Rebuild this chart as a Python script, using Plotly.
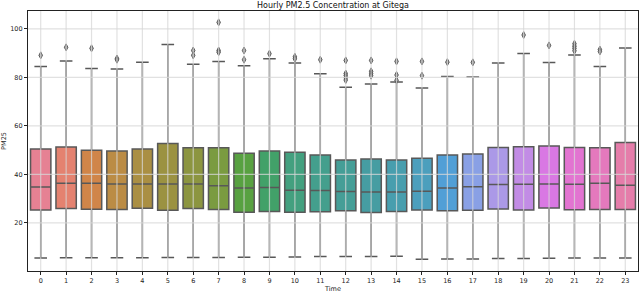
import math
import colorsys
import plotly.graph_objects as go

# ---------------- data ----------------
HOURS = list(range(24))
Q1 = [25.3, 25.9, 25.6, 25.5, 26.0, 25.2, 25.9, 25.5, 24.3, 24.7, 24.3, 24.6,
      25.0, 24.2, 24.7, 25.3, 25.0, 25.2, 25.7, 25.3, 26.1, 25.4, 25.5, 25.5]
MEDIAN = [34.8, 36.3, 36.3, 36.0, 36.0, 36.0, 36.0, 35.3, 34.4, 34.6, 33.4, 33.3,
          32.9, 32.7, 32.7, 33.0, 34.4, 34.9, 35.8, 35.9, 36.0, 35.9, 36.3, 35.5]
Q3 = [50.5, 51.3, 49.9, 49.6, 50.5, 52.7, 51.0, 51.0, 48.7, 49.6, 49.1, 48.0,
      45.9, 46.3, 45.9, 46.6, 48.0, 48.4, 51.1, 51.4, 51.7, 51.1, 51.0, 53.1]
LOWER = [5.5, 5.6, 5.6, 5.6, 5.6, 5.7, 5.7, 5.7, 5.8, 5.8, 5.9, 6.1,
         6.1, 6.1, 6.2, 5.0, 5.1, 5.1, 5.3, 5.3, 5.4, 5.5, 5.5, 5.5]
UPPER = [84.5, 86.8, 83.7, 83.5, 86.2, 93.6, 85.4, 86.6, 84.8, 87.7, 85.9, 81.5,
         75.9, 77.3, 78.1, 75.6, 80.4, 80.2, 85.9, 89.9, 86.1, 89.2, 84.5, 92.1]
OUTLIERS = [[89.1], [92.4], [92.0], [87.8, 87.3], [], [],
            [91.1, 89.1], [102.7, 91.1, 90.4], [91.1, 87.3], [89.8], [88.5, 87.7], [87.3],
            [87.0, 81.6, 80.8, 79.9, 78.9], [87.0, 82.5, 81.5, 80.7], [86.6, 81.0, 78.8],
            [86.6, 80.7], [86.3], [86.2], [], [97.5], [93.2],
            [93.9, 92.9, 92.0, 91.0], [91.5, 90.7], []]
Y_TICKS = [20, 40, 60, 80, 100]
TITLE = "Hourly PM2.5 Concentration at Gitega"
X_LABEL = "Time"
Y_LABEL = "PM25"

# ---------------- seaborn-like husl palette ----------------
_M = [[3.240969941904521, -1.537383177570093, -0.498610760293],
      [-0.96924363628087, 1.87596750150772, 0.041555057407175],
      [0.055630079696993, -0.20397695888897, 1.056971514242878]]
_REFU, _REFV = 0.19783000664283, 0.46831999493879
_KAPPA, _EPS = 903.2962962, 0.0088564516


def _max_chroma(L, H):
    hrad = math.radians(H)
    sinH, cosH = math.sin(hrad), math.cos(hrad)
    sub1 = (L + 16) ** 3 / 1560896.0
    sub2 = sub1 if sub1 > _EPS else L / _KAPPA
    result = float("inf")
    for m1, m2, m3 in _M:
        top = (0.99915 * m1 + 1.05122 * m2 + 1.14460 * m3) * sub2
        rbottom = 0.86330 * m3 - 0.17266 * m2
        lbottom = 0.12949 * m3 - 0.38848 * m1
        bottom = (rbottom * sinH + lbottom * cosH) * sub2
        for t in (0.0, 1.0):
            C = L * (top - 1.05122 * t) / (bottom + 0.17266 * sinH * t)
            if 0 < C < result:
                result = C
    return result


def _husl_to_rgb(H, S, L):
    C = _max_chroma(L, H) / 100.0 * S
    hrad = math.radians(H)
    U, V = math.cos(hrad) * C, math.sin(hrad) * C
    t = (L + 16) / 116.0
    Y = t ** 3 if t ** 3 > _EPS else (116 * t - 16) / _KAPPA
    varU = U / (13 * L) + _REFU
    varV = V / (13 * L) + _REFV
    X = -(9 * Y * varU) / ((varU - 4) * varV - varU * varV)
    Z = (9 * Y - 15 * varV * Y - varV * X) / (3 * varV)
    out = []
    for row in _M:
        c = row[0] * X + row[1] * Y + row[2] * Z
        c = 12.92 * c if c <= 0.0031308 else 1.055 * c ** (1 / 2.4) - 0.055
        out.append(min(max(c, 0.0), 1.0))
    return out


def palette(n, h=0.01, s=0.9, l=0.65, sat=0.75):
    cols = []
    for i in range(n):
        hue = ((i / n) + h) % 1 * 359
        r, g, b = _husl_to_rgb(hue, s * 99, l * 99)
        hh, ll, ss = colorsys.rgb_to_hls(r, g, b)
        r, g, b = colorsys.hls_to_rgb(hh, ll, ss * sat)
        cols.append("rgb(%d,%d,%d)" % (round(r * 255), round(g * 255), round(b * 255)))
    return cols


COLORS = palette(len(HOURS))
LINE = "rgb(88,88,88)"
FONT = "DejaVu Sans"

fig = go.Figure()
for i, h in enumerate(HOURS):
    fig.add_trace(go.Box(
        x=[h], q1=[Q1[i]], median=[MEDIAN[i]], q3=[Q3[i]],
        lowerfence=[LOWER[i]], upperfence=[UPPER[i]],
        width=0.8, whiskerwidth=0.62,
        fillcolor=COLORS[i], line=dict(color=LINE, width=1.5),
        boxpoints=False, showlegend=False, hoverinfo="y",
    ))

ox, oy = [], []
for h, vals in zip(HOURS, OUTLIERS):
    for v in vals:
        ox.append(h)
        oy.append(v)
fig.add_trace(go.Scatter(
    x=ox, y=oy, mode="markers", showlegend=False,
    marker=dict(symbol="diamond-tall", size=5, color="rgba(140,140,140,0.9)",
                line=dict(color=LINE, width=1)),
))

# grid lines drawn above the boxes (as in the reference)
GRID = "rgba(215,215,215,0.75)"
for h in HOURS:
    fig.add_shape(type="line", xref="x", yref="paper", x0=h, x1=h, y0=0, y1=1,
                  line=dict(color=GRID, width=1.2), layer="above")
for t in Y_TICKS:
    fig.add_shape(type="line", xref="paper", yref="y", x0=0, x1=1, y0=t, y1=t,
                  line=dict(color=GRID, width=1.2), layer="above")

fig.update_layout(
    width=640, height=293,
    margin=dict(l=28, r=2, t=11, b=22, autoexpand=False),
    paper_bgcolor="white", plot_bgcolor="white",
    font=dict(family=FONT, size=7, color="#222"),
    title=dict(text=TITLE, x=0.5, xref="paper", xanchor="center",
               y=1 - 5.5 / 293, yref="container", yanchor="middle", pad=dict(t=0, b=0),
               font=dict(family=FONT, size=8, color="#111")),
    boxmode="overlay",
)
fig.update_xaxes(
    range=[-0.5, len(HOURS) - 0.5], tickmode="array", tickvals=HOURS,
    ticktext=[str(h) for h in HOURS], showgrid=False, zeroline=False,
    showline=True, linecolor="#222", linewidth=1.2, mirror=True,
    ticks="outside", ticklen=3, tickcolor="#222", tickfont=dict(size=6.5),
    title=dict(text=X_LABEL, standoff=1, font=dict(size=6.5)), automargin=False,
)
fig.update_yaxes(
    range=[0.1, 107.4], tickmode="array", tickvals=Y_TICKS, showgrid=False,
    zeroline=False, showline=True, linecolor="#222", linewidth=1.2, mirror=True,
    ticks="outside", ticklen=3, tickcolor="#222", tickfont=dict(size=6.5),
    title=dict(text=Y_LABEL, standoff=3, font=dict(size=6.5)), automargin=False,
)

fig.write_html(
    "out.html",
    config={"displayModeBar": False},
    post_script="document.body.style.margin='0';document.body.style.overflow='hidden';",
)
